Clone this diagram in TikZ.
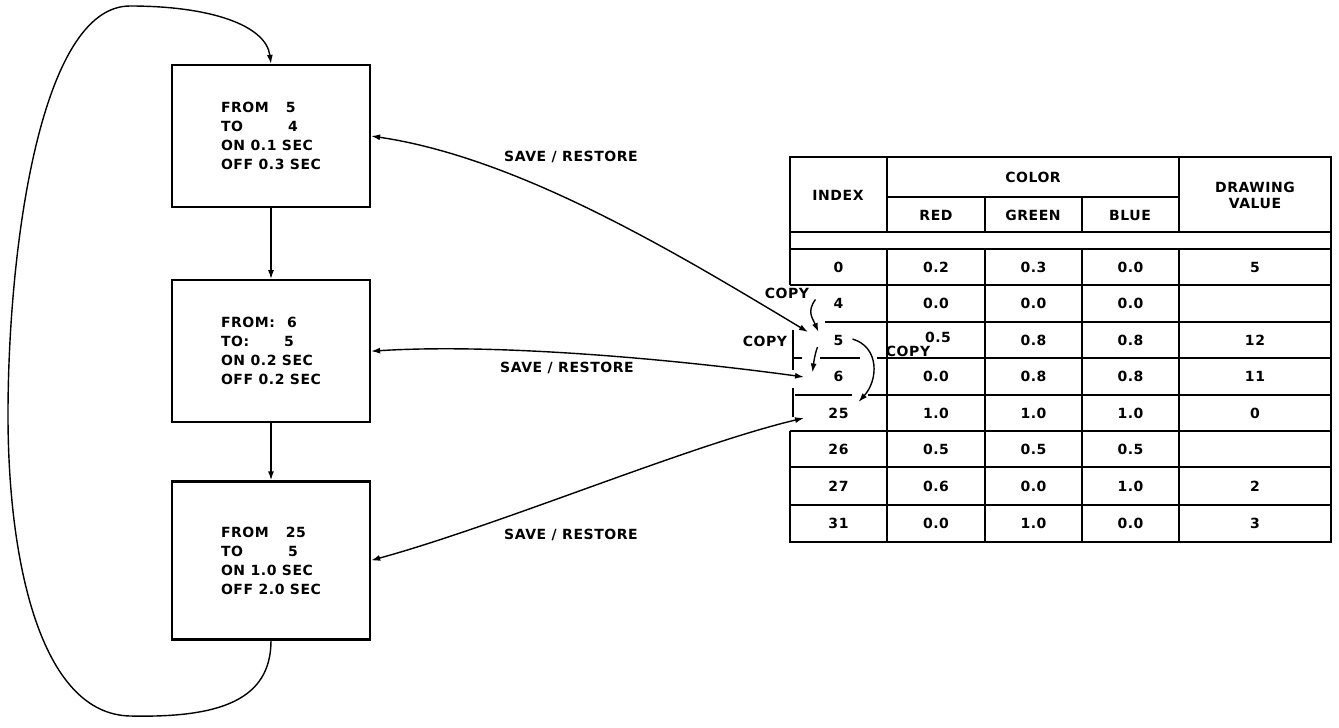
\documentclass[tikz,border=0pt]{standalone}
\usepackage{fontspec}
\setmainfont{DejaVu Sans}[LetterSpace=4]
\usetikzlibrary{
    arrows.meta,
    positioning
}

\begin{document}
\begin{tikzpicture}[
    x=1pt,
    y=-1pt,
    node distance=71pt,
    >={Latex[length=9pt,width=6pt]},
    every node/.style={
        font=\bfseries\fontsize{14}{19}\selectfont
    },
    state/.style={
        rectangle,
        draw,
        line width=2.2pt,
        minimum width=198pt,
        minimum height=142pt,
        align=left,
        inner sep=0pt
    },
    cell/.style={
        inner sep=0pt
    },
    grid/.style={
        line width=2.2pt
    },
    link/.style={
        line width=1.4pt
    }
]

\useasboundingbox (0,0) rectangle (1339,728);

%--------------------------------------------------
\node[state] (blink1) at (271,136)
{
FROM\hspace{17pt}5\\
TO\hspace{45pt}4\\
ON\ 0.1 SEC\\
OFF\ 0.3 SEC
};

\node[state,below=of blink1] (blink2)
{
FROM:\hspace{12pt}6\\
TO:\hspace{35pt}5\\
ON\ 0.2 SEC\\
OFF\ 0.2 SEC
};

\node[state,below=57pt of blink2,minimum height=158pt] (blink3)
{
FROM\hspace{17pt}25\\
TO\hspace{45pt}5\\
ON\ 1.0 SEC\\
OFF\ 2.0 SEC
};

\node (sr1) at (571,157) {SAVE / RESTORE};
\node (sr2) at (567,368) {SAVE / RESTORE};
\node (sr3) at (571,535) {SAVE / RESTORE};

%--------------------------------------------------
% colour table
\draw[grid] (790,431) -- (790,542) -- (1331,542) -- (1331,157) -- (790,157) -- (790,285);
\draw[grid] (887,197) -- (1179,197);
\draw[grid] (790,232) -- (1331,232);
\draw[grid] (790,249) -- (1331,249);
\draw[grid] (887,157) -- (887,232) (985,197) -- (985,232)
    (1082,197) -- (1082,232) (1179,157) -- (1179,232);
\draw[grid] (887,249) -- (887,542) (985,249) -- (985,542)
    (1082,249) -- (1082,542) (1179,249) -- (1179,542);
\draw[grid] (790,285) -- (1331,285);
\draw[grid] (825,322) -- (1331,322);
\draw[grid] (793,358) -- (802,358) (820,358) -- (860,358) (877,358) -- (1331,358);
\draw[grid] (795,395) -- (852,395) (868,395) -- (1331,395);
\draw[grid] (790,431) -- (1331,431) (790,467) -- (1331,467) (790,505) -- (1331,505);
% copy brackets
\draw[grid] (793,330) -- (793,370) (793,388) -- (793,417);

\node[cell] (hidx) at (838,195) {INDEX};
\node[cell] (hcol) at (1033,177) {COLOR};
\node[cell] (hred) at (936,215) {RED};
\node[cell] (hgreen) at (1033,215) {GREEN};
\node[cell] (hblue) at (1130,215) {BLUE};
\node[cell,align=center] (hval) at (1255,195) {DRAWING\\[-3pt]VALUE};

% row 0
\node[cell] (idx0) at (838.5,267) {0};
\node[cell] (red0) at (936,267) {0.2};
\node[cell] (green0) at (1033.5,267) {0.3};
\node[cell] (blue0) at (1130.5,267) {0.0};
\node[cell] (val0) at (1255,267) {5};
% row 4
\node[cell] (idx4) at (838.5,303.5) {4};
\node[cell] (red4) at (936,303.5) {0.0};
\node[cell] (green4) at (1033.5,303.5) {0.0};
\node[cell] (blue4) at (1130.5,303.5) {0.0};
% row 5
\node[cell] (idx5) at (838.5,340) {5};
\node[cell] (red5) at (938,337) {0.5};
\node[cell] (green5) at (1033.5,340) {0.8};
\node[cell] (blue5) at (1130.5,340) {0.8};
\node[cell] (val5) at (1255,340) {12};
% row 6
\node[cell] (idx6) at (838.5,376.5) {6};
\node[cell] (red6) at (936,376.5) {0.0};
\node[cell] (green6) at (1033.5,376.5) {0.8};
\node[cell] (blue6) at (1130.5,376.5) {0.8};
\node[cell] (val6) at (1255,376.5) {11};
% row 25
\node[cell] (idx25) at (838.5,413) {25};
\node[cell] (red25) at (936,413) {1.0};
\node[cell] (green25) at (1033.5,413) {1.0};
\node[cell] (blue25) at (1130.5,413) {1.0};
\node[cell] (val25) at (1255,413) {0};
% row 26
\node[cell] (idx26) at (838.5,449) {26};
\node[cell] (red26) at (936,449) {0.5};
\node[cell] (green26) at (1033.5,449) {0.5};
\node[cell] (blue26) at (1130.5,449) {0.5};
% row 27
\node[cell] (idx27) at (838.5,486) {27};
\node[cell] (red27) at (936,486) {0.6};
\node[cell] (green27) at (1033.5,486) {0.0};
\node[cell] (blue27) at (1130.5,486) {1.0};
\node[cell] (val27) at (1255,486) {2};
% row 31
\node[cell] (idx31) at (838.5,523.5) {31};
\node[cell] (red31) at (936,523.5) {0.0};
\node[cell] (green31) at (1033.5,523.5) {1.0};
\node[cell] (blue31) at (1130.5,523.5) {0.0};
\node[cell] (val31) at (1255,523.5) {3};

\node (cp1) at (787,293) {COPY};
\node (cp2) at (765,341) {COPY};
\node (cp3) at (908,351) {COPY};

\coordinate (in5) at (808,332);
\coordinate (in6) at (804,377);
\coordinate (in25) at (804,418);

%--------------------------------------------------
\draw[link,->] (blink1) -- (blink2);
\draw[link,->] (blink2) -- (blink3);

\draw[link,->] (blink3.south)
    .. controls (271,700) and (220,718) .. (130,716)
    .. controls (40,714) and (8,560) .. (8,415)
    .. controls (8,250) and (40,6) .. (130,6)
    .. controls (210,6) and (266,25) .. (blink1.north);

\draw[link,<->] (blink1.east) .. controls (520,158) and (678,254) .. (in5);
\draw[link,<->] (blink2.east) .. controls (500,343) and (680,360) .. (in6);
\draw[link,<->] (blink3.east) .. controls (500,525) and (690,445) .. (in25);

\draw[link,->] ([shift={(-23,-4)}]idx4.center)
    .. controls +(-9,12) and +(-6,-14) .. ([shift={(-20,-8)}]idx5.center);
\draw[link,->] ([shift={(-21,7)}]idx5.center)
    .. controls +(-3,8) and +(1,-8) .. ([shift={(-26,-4)}]idx6.center);
\draw[link,->] ([shift={(14,-1)}]idx5.center)
    .. controls +(27,8) and +(20,-22) .. ([shift={(20,-11)}]idx25.center);

\end{tikzpicture}
\end{document}
